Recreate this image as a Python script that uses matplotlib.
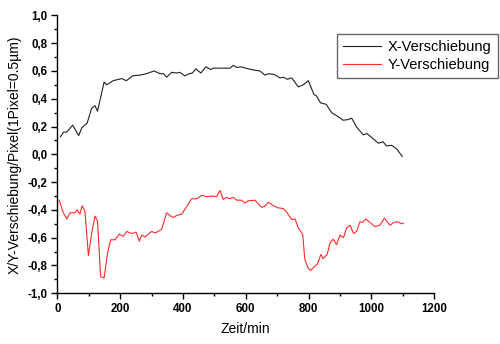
import numpy as np
import matplotlib.pyplot as plt
from matplotlib.ticker import MultipleLocator, FuncFormatter

plt.rcParams['font.family'] = ['Liberation Sans', 'DejaVu Sans']

# X-Verschiebung (Pixel) über die Zeit (min)
t_x = [10, 20, 30, 49, 68, 78, 95, 109, 120, 128, 149, 157, 178, 205, 220, 240,
       263, 284, 308, 327, 338, 348, 364, 380, 390, 406, 420, 430, 441, 457, 473,
       488, 496, 520, 550, 560, 572, 585, 608, 629, 645, 661, 672, 690, 709, 720,
       732, 746, 767, 783, 799, 817, 825, 838, 856, 873, 895, 910, 925, 937, 953,
       974, 985, 999, 1022, 1037, 1048, 1064, 1080, 1098]
x_shift = [0.125, 0.16, 0.16, 0.21, 0.135, 0.19, 0.225, 0.33, 0.35, 0.31, 0.52,
           0.50, 0.53, 0.545, 0.53, 0.565, 0.57, 0.58, 0.60, 0.58, 0.58, 0.555,
           0.59, 0.585, 0.59, 0.565, 0.58, 0.585, 0.615, 0.585, 0.63, 0.61, 0.62,
           0.62, 0.62, 0.64, 0.625, 0.63, 0.615, 0.605, 0.60, 0.57, 0.58, 0.575,
           0.55, 0.555, 0.54, 0.55, 0.485, 0.50, 0.53, 0.43, 0.42, 0.37, 0.36,
           0.30, 0.27, 0.245, 0.25, 0.26, 0.195, 0.14, 0.15, 0.125, 0.08, 0.09,
           0.06, 0.065, 0.04, -0.015]

# Y-Verschiebung (Pixel) über die Zeit (min)
t_y = [6, 19, 30, 41, 55, 64, 72, 79, 88, 99, 110, 120, 128, 138, 149, 160, 170,
       184, 197, 210, 221, 237, 251, 261, 269, 279, 300, 311, 321, 332, 348, 358,
       369, 380, 396, 412, 428, 444, 460, 475, 496, 507, 518, 528, 539, 549, 560,
       571, 586, 597, 608, 629, 650, 660, 672, 688, 703, 719, 730, 746, 757, 767,
       781, 788, 799, 807, 817, 828, 839, 846, 859, 868, 878, 889, 900, 911, 921,
       932, 943, 953, 963, 971, 982, 995, 1011, 1027, 1041, 1059, 1074, 1085,
       1096, 1102]
y_shift = [-0.33, -0.42, -0.465, -0.42, -0.42, -0.40, -0.43, -0.37, -0.41, -0.73,
           -0.56, -0.445, -0.48, -0.88, -0.89, -0.71, -0.615, -0.615, -0.575,
           -0.59, -0.555, -0.57, -0.56, -0.625, -0.58, -0.595, -0.555, -0.565,
           -0.555, -0.54, -0.42, -0.44, -0.455, -0.44, -0.43, -0.375, -0.32,
           -0.32, -0.295, -0.305, -0.30, -0.305, -0.26, -0.325, -0.31, -0.32,
           -0.31, -0.33, -0.33, -0.35, -0.335, -0.33, -0.38, -0.375, -0.345,
           -0.37, -0.385, -0.39, -0.415, -0.47, -0.465, -0.53, -0.575, -0.76,
           -0.82, -0.835, -0.81, -0.79, -0.72, -0.75, -0.72, -0.64, -0.61, -0.65,
           -0.58, -0.60, -0.53, -0.51, -0.57, -0.555, -0.487, -0.49, -0.465,
           -0.49, -0.52, -0.51, -0.46, -0.51, -0.487, -0.487, -0.50, -0.495]


def comma_fmt(v, pos):
    return f"{v:.1f}".replace('.', ',')


fig = plt.figure(figsize=(5.0, 3.44), dpi=100)
ax = fig.add_axes([0.1146, 0.1474, 0.754, 0.808])

ax.plot(t_x, x_shift, color='#202020', lw=0.8, label='X-Verschiebung')
ax.plot(t_y, y_shift, color='#ff2a2a', lw=0.8, label='Y-Verschiebung')

ax.set_xlim(0, 1200)
ax.set_ylim(-1.0, 1.0)
ax.xaxis.set_major_locator(MultipleLocator(200))
ax.xaxis.set_minor_locator(MultipleLocator(100))
ax.yaxis.set_major_locator(MultipleLocator(0.2))
ax.yaxis.set_minor_locator(MultipleLocator(0.1))
ax.yaxis.set_major_formatter(FuncFormatter(comma_fmt))

for side in ('top', 'right'):
    ax.spines[side].set_visible(False)
for side in ('left', 'bottom'):
    ax.spines[side].set_linewidth(1.0)

ax.tick_params(which='major', direction='out', length=4.5, width=1.0,
               labelsize=8.3, pad=2.5)
ax.tick_params(which='minor', direction='out', length=2.5, width=1.0)
for lbl in ax.get_xticklabels() + ax.get_yticklabels():
    lbl.set_fontweight('bold')

ax.set_xlabel('Zeit/min', fontsize=10, labelpad=5)
ax.set_ylabel('X/Y-Verschiebung/Pixel(1Pixel=0.5µm)', fontsize=10, labelpad=4.5)

leg = fig.legend(loc='upper left', bbox_to_anchor=(0.674, 0.901),
                 fontsize=10.5, frameon=True, fancybox=False, shadow=False,
                 handlelength=2.6, handletextpad=0.5, borderpad=0.4,
                 labelspacing=0.3, borderaxespad=0)
leg.get_frame().set_edgecolor('#404040')
leg.get_frame().set_linewidth(1.0)

fig.savefig('out.png', dpi=100)
